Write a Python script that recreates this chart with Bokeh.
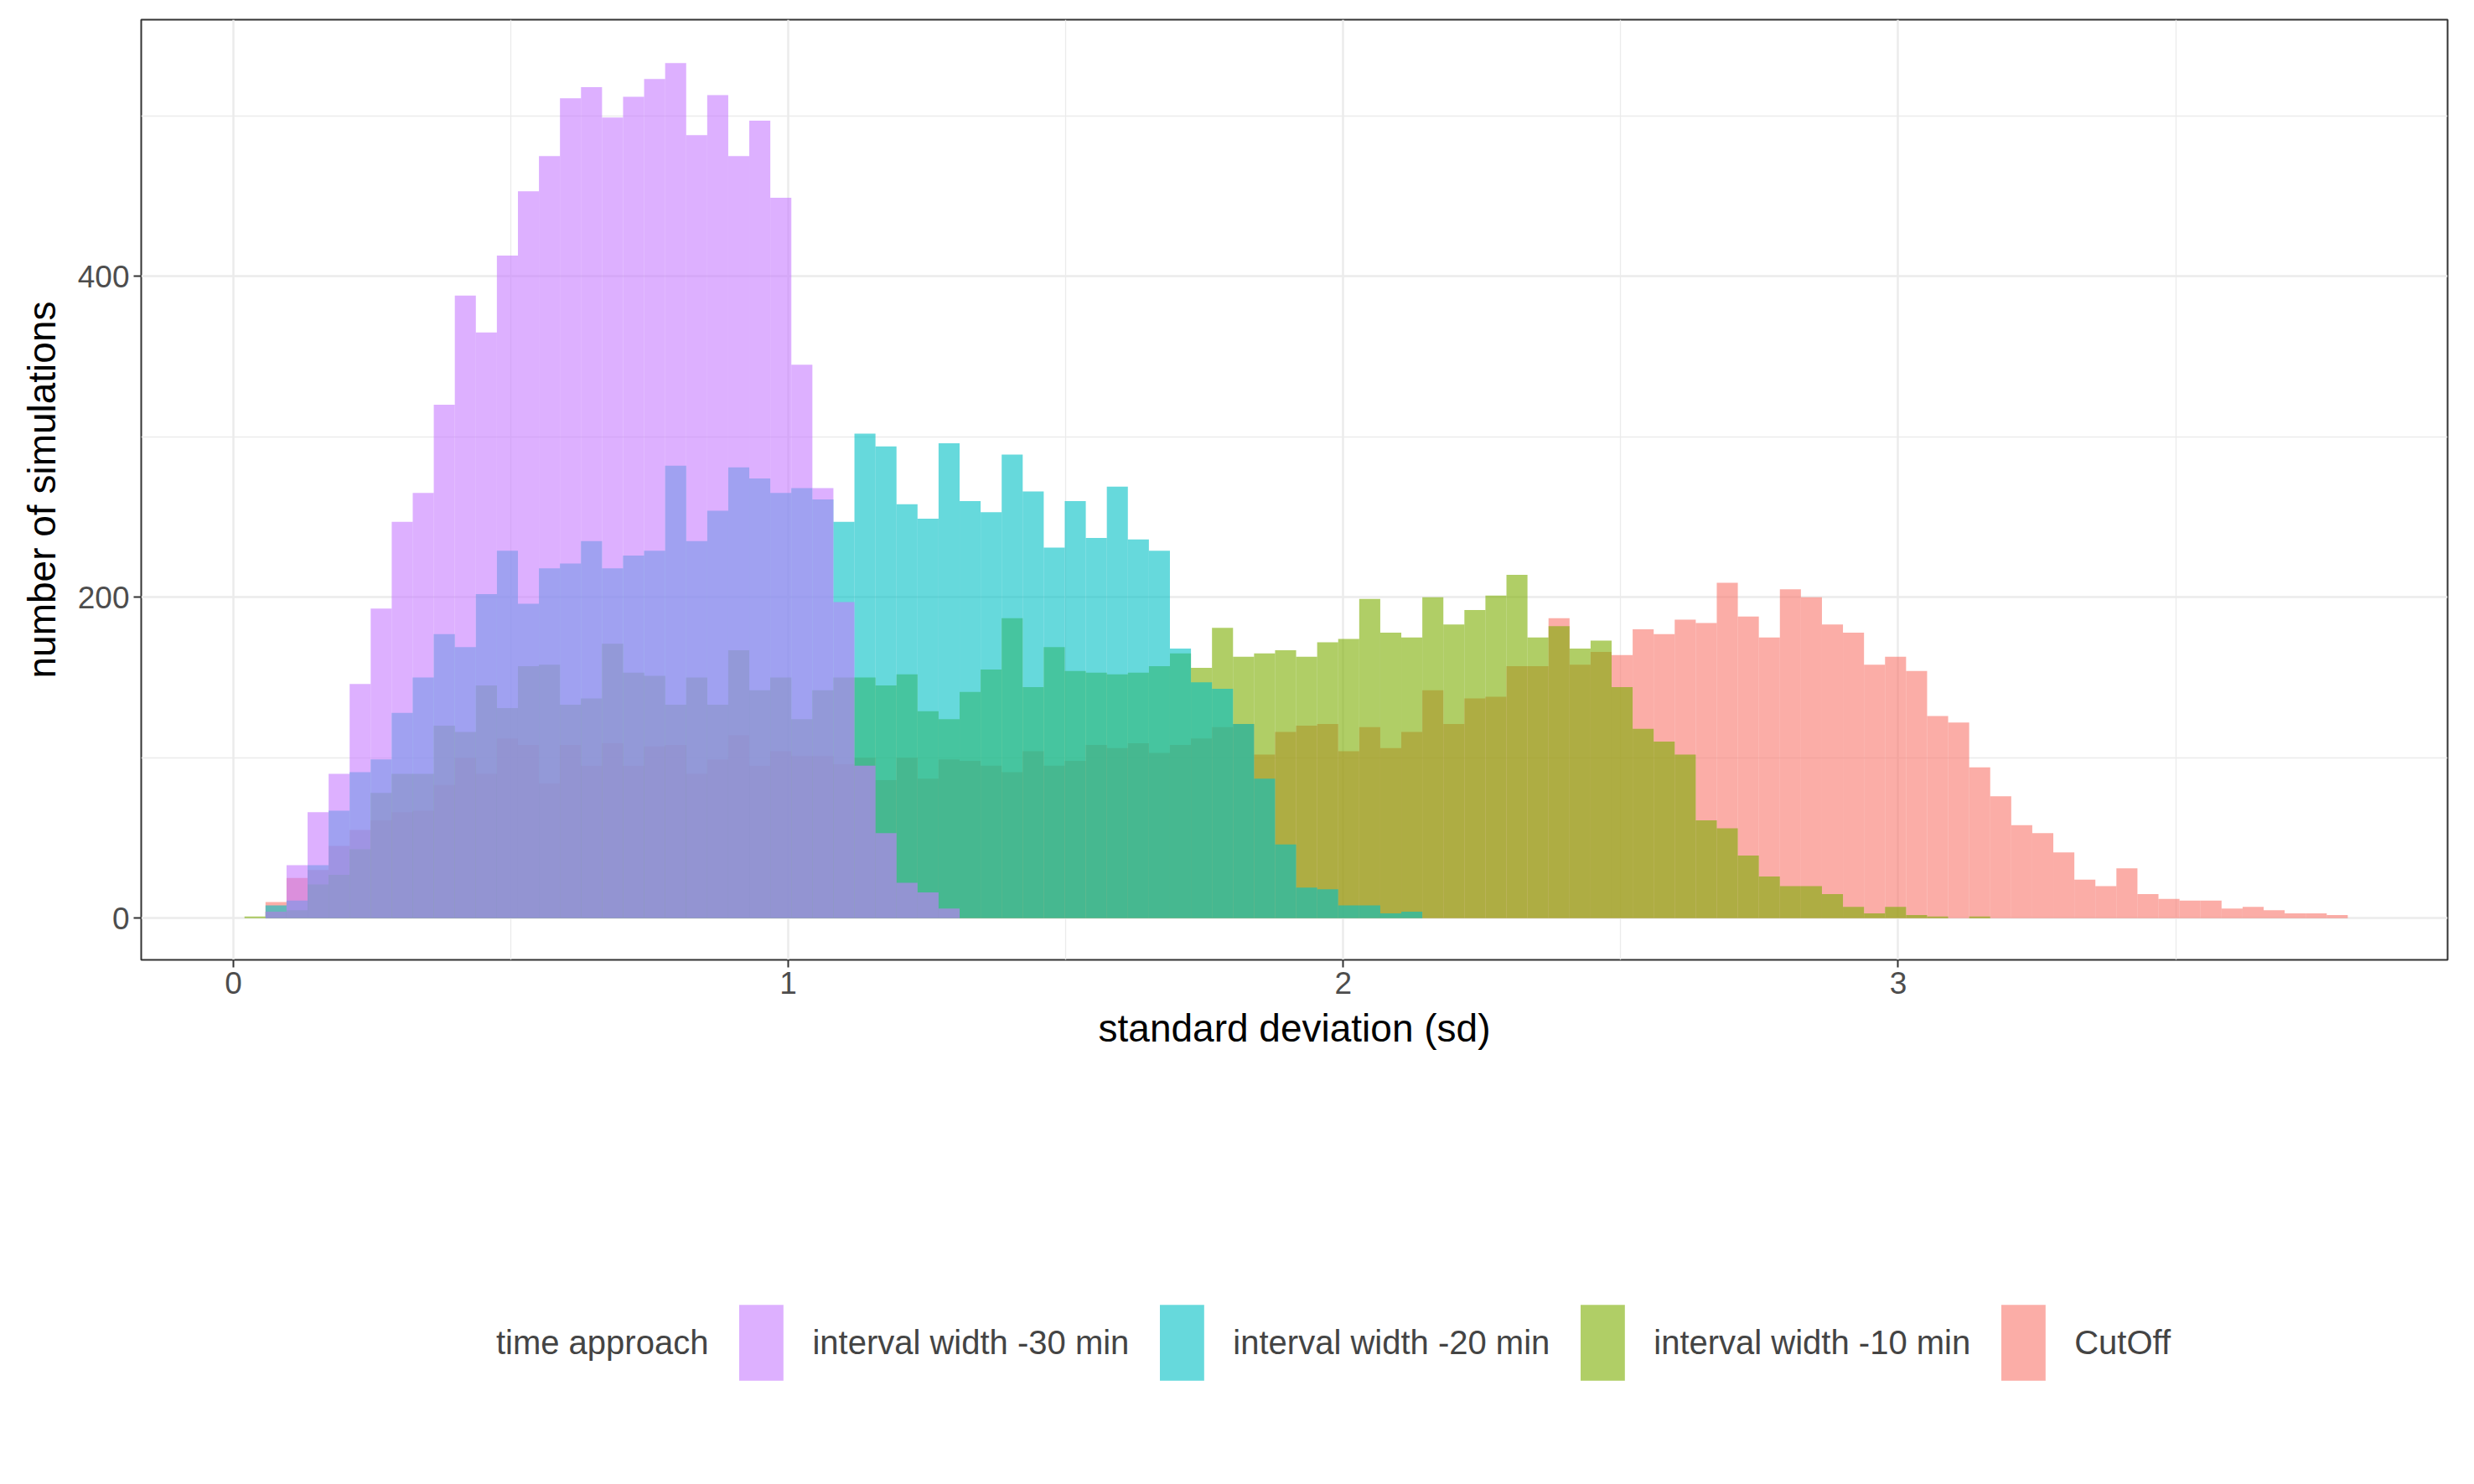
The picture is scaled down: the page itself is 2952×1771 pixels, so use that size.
from bokeh.plotting import figure
from bokeh.models import FixedTicker, Legend, LegendItem
from bokeh.embed import file_html
from bokeh.resources import INLINE

# histogram bins (start of first bin, bin width), 100 bins
bin_start = 0.0201
bin_width = 0.0379

series_names = ["interval width -30 min", "interval width -20 min", "interval width -10 min", "CutOff"]
series_colors = ["#C77CFF", "#00BFC4", "#7CAE00", "#F8766D"]

counts_30 = [0, 4, 33, 66, 90, 146, 193, 247, 265, 320, 388, 365, 413, 453, 475, 511, 518, 499, 512,
             523, 533, 488, 513, 475, 497, 449, 345, 268, 197, 95, 53, 22, 16, 6]
counts_20 = [0, 8, 11, 33, 67, 91, 99, 128, 150, 177, 169, 202, 229, 196, 218, 221, 235, 218, 226,
             229, 282, 235, 254, 281, 274, 265, 268, 261, 247, 302, 294, 258, 249, 296, 260, 253,
             289, 266, 231, 260, 237, 269, 236, 229, 168, 147, 143, 121, 87, 46, 19, 18, 8, 8, 3, 4]
counts_10 = [1, 4, 5, 21, 27, 43, 78, 90, 90, 120, 116, 145, 131, 157, 158, 133, 137, 171, 153,
             151, 133, 150, 133, 167, 142, 150, 124, 142, 150, 150, 145, 152, 129, 124, 141, 155,
             187, 144, 169, 154, 153, 152, 153, 157, 165, 156, 181, 163, 165, 167, 163, 172, 174,
             199, 178, 175, 200, 183, 192, 201, 214, 175, 182, 168, 173, 144, 118, 110, 102, 61,
             56, 39, 26, 20, 20, 15, 7, 3, 7, 2, 1, 0, 1]
counts_cut = [0, 10, 25, 30, 45, 55, 61, 66, 67, 83, 100, 90, 112, 108, 84, 108, 95, 109, 95,
              107, 108, 90, 99, 114, 95, 104, 101, 101, 96, 100, 86, 100, 87, 99, 98, 95, 91, 104,
              95, 98, 108, 106, 109, 103, 108, 112, 119, 121, 102, 116, 120, 121, 104, 119, 106,
              116, 142, 121, 137, 138, 157, 157, 187, 158, 166, 164, 180, 177, 186, 184, 209, 188,
              175, 205, 200, 183, 178, 158, 163, 154, 126, 122, 94, 76, 58, 53, 41, 24, 20, 31,
              15, 12, 11, 11, 6, 7, 5, 3, 3, 2]

all_counts = [counts_30, counts_20, counts_10, counts_cut]

p = figure(width=2936, height=1755, output_backend="svg", toolbar_location=None,
           x_range=(-0.166, 3.99), y_range=(-26, 560),
           min_border_left=168, min_border_top=23, min_border_right=16, min_border_bottom=330)

renderers = {}
# CutOff drawn first, -30 min last (on top)
for i in [3, 2, 1, 0]:
    c = all_counts[i]
    left = [bin_start + k * bin_width for k in range(len(c))]
    right = [bin_start + (k + 1) * bin_width for k in range(len(c))]
    renderers[i] = p.quad(left=left, right=right, top=c, bottom=0,
                          fill_color=series_colors[i], fill_alpha=0.6, line_color=None)

# empty renderer that only carries the legend title
title_r = p.quad(left=[], right=[], top=[], bottom=[], fill_alpha=0, line_color=None)

font = "Liberation Sans"
p.xaxis.ticker = FixedTicker(ticks=[0, 1, 2, 3], minor_ticks=[0.5, 1.5, 2.5, 3.5])
p.yaxis.ticker = FixedTicker(ticks=[0, 200, 400], minor_ticks=[100, 300, 500])
p.xaxis.axis_label = "standard deviation (sd)"
p.yaxis.axis_label = "number of simulations"
for ax in [p.xaxis, p.yaxis]:
    ax.axis_line_color = None
    ax.major_tick_line_color = "#333333"
    ax.major_tick_line_width = 2
    ax.major_tick_in = 0
    ax.major_tick_out = 9
    ax.minor_tick_line_color = None
    ax.major_label_text_font = font
    ax.major_label_text_font_size = "37px"
    ax.major_label_text_color = "#4D4D4D"
    ax.axis_label_text_font = font
    ax.axis_label_text_font_size = "46px"
    ax.axis_label_text_font_style = "normal"
    ax.axis_label_text_color = "black"
p.xaxis.axis_label_standoff = 12
p.yaxis.axis_label_standoff = 14
p.yaxis.major_label_orientation = "horizontal"

for g in [p.xgrid, p.ygrid]:
    g.grid_line_color = "#EBEBEB"
    g.grid_line_width = 2.5
    g.minor_grid_line_color = "#EBEBEB"
    g.minor_grid_line_width = 1.3

p.outline_line_color = "#333333"
p.outline_line_width = 2
p.background_fill_color = "white"

items = [LegendItem(label="time approach", renderers=[title_r])]
items += [LegendItem(label=series_names[i], renderers=[renderers[i]]) for i in range(4)]
legend = Legend(items=items, orientation="horizontal", location="center",
                glyph_width=66, glyph_height=113, label_standoff=28, spacing=30,
                padding=40, margin=0, border_line_color=None, background_fill_alpha=0,
                label_text_font=font, label_text_font_size="40px", label_height=113)
p.add_layout(legend, "below")

open("out.html", "w").write(file_html(p, INLINE))
